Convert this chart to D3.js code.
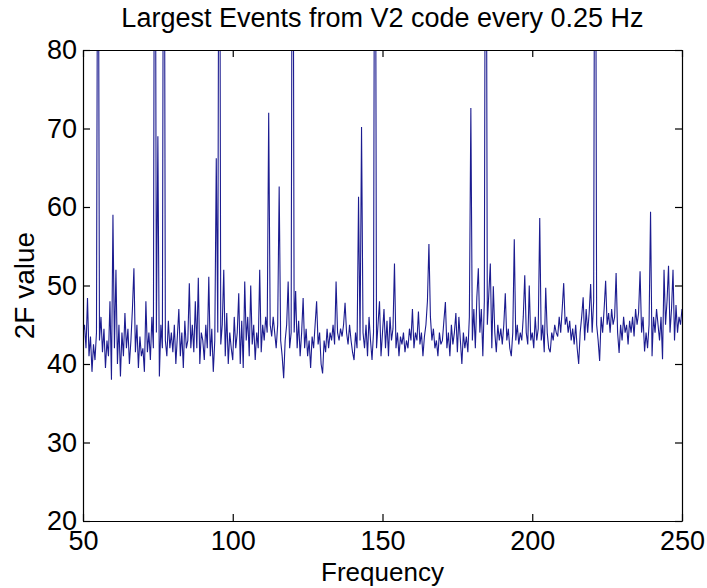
<!DOCTYPE html>
<html>
<head>
<meta charset="utf-8">
<script src="https://cdn.jsdelivr.net/npm/d3@7"></script>
<style>
  body { margin: 0; background: #fff; }
  text { font-family: "Liberation Sans", Arial, Helvetica, sans-serif; fill: #000; }
</style>
</head>
<body>
<div id="chart"></div>
<script>
// 2F value, one value every 0.5 Hz from 50 to 250 Hz
const freqStart = 50;
const freqStep = 0.5;
const twoF = [
  44, 45, 42, 48.4, 41, 43.5, 39, 42.5, 40.5, 44, 120, 43, 46, 41.5, 44.5, 39.5, 43, 41, 48, 38,
  59, 42, 52, 40, 45, 38.4, 44, 41, 46.5, 42, 44.5, 40, 43, 47, 52.2, 41.5, 45, 39.5, 43.5, 41,
  42, 39, 48, 41.5, 44, 40.5, 46, 42, 130, 44, 69, 38.4, 45, 42, 130, 43, 41, 45.5, 42, 44,
  41.5, 45, 40, 43.5, 47, 41, 44, 39.5, 45.5, 42, 43, 50.3, 42, 45, 41.5, 48, 42, 51, 40, 44,
  43, 40.5, 45, 42, 51.1, 41, 44.5, 39, 43, 66.2, 44, 130, 42.5, 45, 52, 41, 46.5, 40, 44, 42,
  40.5, 46, 42, 44, 49, 40, 45.5, 39.5, 50.5, 43, 46, 41, 50, 42.5, 45, 40.5, 44, 42, 52, 41.5,
  45, 43, 46, 44, 72, 45, 43.5, 46, 44, 42, 45, 62.6, 43, 41, 38.2, 43, 45, 50.5, 42, 44,
  130, 44, 49.3, 42, 45.5, 41, 44, 48.4, 42, 44.5, 41, 43, 39.5, 43.5, 42, 45, 48, 42.5, 44, 40,
  38.8, 43, 41.5, 44.5, 42, 44, 43, 45, 42.5, 50.5, 44, 43, 44.5, 43.5, 45, 47.8, 44, 42.5, 45, 43,
  41.5, 40.5, 44, 42, 61.3, 43, 70.2, 44, 42, 45, 41, 46, 43, 40.5, 44, 130, 42, 45, 48, 41,
  44, 47, 42, 45.5, 41, 46, 43, 44.5, 52.8, 42, 44, 41, 43.5, 42.5, 44, 41.5, 43, 42, 44.5, 43,
  47, 42, 44, 43, 46.7, 42.5, 44, 41, 43.5, 45, 48, 55.3, 46, 43, 44.5, 42, 43, 41, 44, 42.5,
  43, 45.5, 47.9, 42, 44, 41, 45, 42.5, 44, 46.5, 41.5, 46, 43, 40, 44, 42, 43.5, 41.5, 46, 72.6,
  43, 47, 42, 48.5, 52.2, 44, 47, 41, 48, 130, 45, 49, 52.8, 42, 49.9, 44, 41.5, 45, 43, 44.5,
  42.5, 45, 49, 43, 44.5, 42, 41, 44, 55.9, 43, 45, 42.5, 44, 43, 46, 51.3, 44, 42.5, 50, 43,
  44, 42, 46, 43, 44.5, 58.6, 43, 45, 41.5, 49.7, 44, 42, 41.5, 44, 43, 45, 44, 43.5, 46, 44,
  47, 50.3, 45, 46, 44, 45.5, 43, 44.5, 42.5, 45, 42, 40, 44, 46, 48.5, 43, 47, 44, 46.5, 50.2,
  44, 48, 130, 45, 43, 40.4, 46, 44, 47, 50.6, 45, 46.5, 44, 47, 45, 46, 51.6, 44, 41.4, 45,
  43, 46, 44, 45, 42.5, 45.5, 44, 46, 43.5, 47, 45, 46.5, 51.8, 44, 46, 41.6, 44, 42, 45, 59.4,
  41, 46, 44, 47, 45, 43, 46, 40.6, 52, 45, 48, 52.5, 44, 47, 52, 43, 47.5, 44, 46, 45,
  47
];
const xTicks = [50, 100, 150, 200, 250];
const yTicks = [20, 30, 40, 50, 60, 70, 80];

const width = 707, height = 588;
const margin = { top: 50, right: 25, bottom: 67, left: 83 };
const innerW = width - margin.left - margin.right;
const innerH = height - margin.top - margin.bottom;

const points = twoF.map((v, i) => ({ f: freqStart + i * freqStep, v: v }));

const x = d3.scaleLinear().domain([50, 250]).range([0, innerW]);
const y = d3.scaleLinear().domain([20, 80]).range([innerH, 0]);

const svg = d3.select('#chart')
  .append('svg')
  .attr('width', width)
  .attr('height', height);

svg.append('defs').append('clipPath')
  .attr('id', 'plotclip')
  .append('rect')
  .attr('width', innerW)
  .attr('height', innerH);

const g = svg.append('g')
  .attr('transform', `translate(${margin.left},${margin.top})`);

// trace
const line = d3.line()
  .x(d => x(d.f))
  .y(d => y(d.v));

g.append('path')
  .datum(points)
  .attr('clip-path', 'url(#plotclip)')
  .attr('fill', 'none')
  .attr('stroke', '#1c1c90')
  .attr('stroke-width', 1.1)
  .attr('d', line);

// matlab style box, ticks pointing in on all four sides
const tickLen = 7;
function styleAxis(sel) {
  sel.select('.domain').attr('stroke', '#000').attr('stroke-width', 1.2);
  sel.selectAll('.tick line').attr('stroke', '#000').attr('stroke-width', 1.2);
  sel.selectAll('.tick text')
    .style('font-size', '27px')
    .style('font-family', '"Liberation Sans", Arial, sans-serif')
    .attr('fill', '#000');
}

g.append('g')
  .attr('transform', `translate(0,${innerH})`)
  .call(d3.axisBottom(x).tickValues(xTicks).tickSize(-tickLen).tickSizeOuter(0).tickPadding(10))
  .call(styleAxis);

g.append('g')
  .call(d3.axisTop(x).tickValues(xTicks).tickSize(-tickLen).tickSizeOuter(0).tickFormat(''))
  .call(styleAxis);

g.append('g')
  .call(d3.axisLeft(y).tickValues(yTicks).tickSize(-tickLen).tickSizeOuter(0).tickPadding(6))
  .call(styleAxis);

g.append('g')
  .attr('transform', `translate(${innerW},0)`)
  .call(d3.axisRight(y).tickValues(yTicks).tickSize(-tickLen).tickSizeOuter(0).tickFormat(''))
  .call(styleAxis);

// titles
svg.append('text')
  .attr('x', margin.left + innerW / 2)
  .attr('y', 27)
  .attr('text-anchor', 'middle')
  .style('font-size', '27px')
  .text('Largest Events from V2 code every 0.25 Hz');

svg.append('text')
  .attr('x', margin.left + innerW / 2)
  .attr('y', 581)
  .attr('text-anchor', 'middle')
  .style('font-size', '26px')
  .text('Frequency');

svg.append('text')
  .attr('transform', `translate(34,${margin.top + innerH / 2}) rotate(-90)`)
  .attr('text-anchor', 'middle')
  .style('font-size', '28px')
  .text('2F value');
</script>
</body>
</html>
